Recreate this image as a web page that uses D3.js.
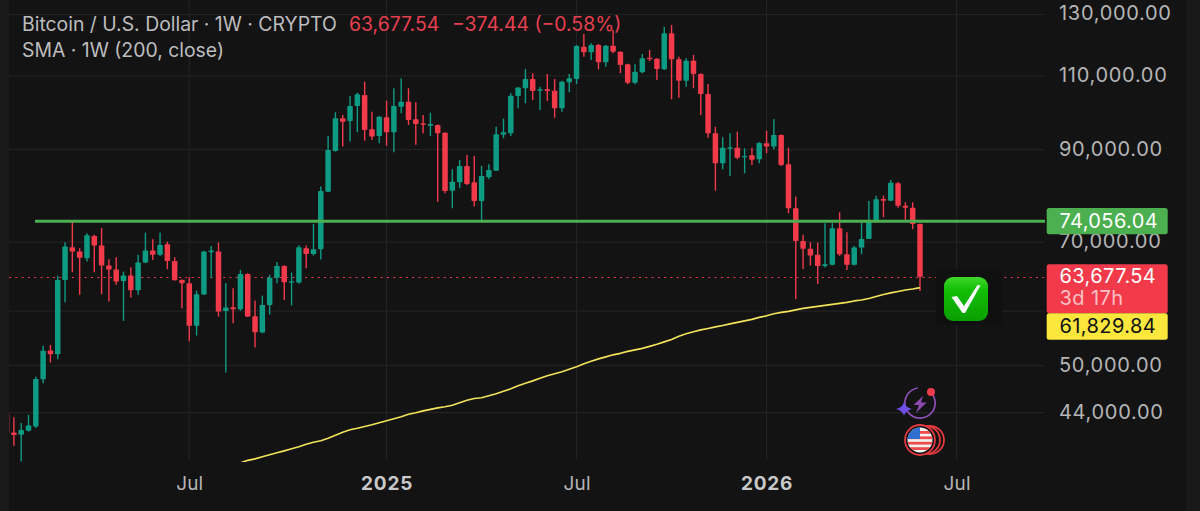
<!DOCTYPE html>
<html>
<head>
<meta charset="utf-8">
<title>BTCUSD weekly</title>
<script src="https://cdn.jsdelivr.net/npm/d3@7/dist/d3.min.js"></script>
<style>
  html, body { margin: 0; padding: 0; background: #131314; overflow: hidden; }
  svg { display: block; }
  text { font-family: Inter, "Open Sans", sans-serif; }
</style>
</head>
<body>
<svg id="chart" width="1200" height="511"></svg>
<script>
// Weekly BTC/USD candles, oldest first
const opens = [43950,41700,41440,41890,42380,48200,52100,51600,63150,69030,68210,67000,71180,69330,65660,64940,62980,63900,61400,66200,68390,67600,69590,66500,63150,62590,55730,60680,68100,68210,58040,58630,58310,64190,57220,54720,59000,63500,65600,62690,62690,68840,67780,68650,80290,89690,98030,97310,101360,104450,95130,93430,98300,94370,101170,102550,97760,96700,96080,96260,94260,80500,82370,86100,82370,78280,83500,85000,93760,94110,104160,106360,109080,105670,106070,105670,100730,108110,109080,119100,117300,119660,114160,119430,117490,113540,108000,111090,115600,115270,111990,123530,115080,108580,114660,110580,104730,94110,86740,90240,90490,88240,88650,87680,91590,90750,93680,86500,76740,70210,68710,67600,65600,65790,72690,67730,65790,68950,70590,73880,78710,78340,82150,77270,76860,73540];
const highs = [43950,43470,42770,43750,48550,52780,52920,63850,69970,74050,68840,71710,71400,72690,66810,67180,64590,65370,67600,71820,70540,71820,70080,67180,63270,63620,61330,68340,69270,69890,62590,61740,64890,64320,59690,60510,64020,66320,65700,64420,69400,69330,73540,81390,93430,99640,98920,104160,105100,108290,99800,98650,102830,106360,109290,106360,102390,98920,99530,96400,94370,85330,87510,88720,88480,86100,86500,95810,97920,104930,106660,112090,110790,106830,110580,109080,108580,110580,119660,123290,120210,119990,119660,124630,117600,113700,113540,116770,118030,115400,125770,126350,115910,115400,116450,110790,107620,95800,93100,94110,94520,90340,90490,91840,94770,97830,93800,90490,79210,71380,69970,69890,73680,73680,75920,71900,69270,73800,78280,79420,79420,82880,82400,78000,78000,73600];
const lows = [41630,40210,38520,41810,42200,47680,50430,50900,59430,64490,60630,66380,64490,60740,59530,62300,56490,60180,60630,66090,66680,67400,65020,63030,58470,53450,54280,60630,63450,57150,49080,56140,58040,57100,52530,54630,57470,62590,59800,58890,62470,65190,67470,66740,80200,89520,90750,91990,94370,92240,92410,91590,91000,89370,99370,96260,91240,94110,93430,78130,79940,76740,81040,81770,77080,74340,83040,85000,92840,93430,100730,102110,103020,100260,102740,98170,99800,105210,107620,115910,114870,111990,112800,116990,110790,107620,107530,110790,114560,108780,111780,103210,103660,106830,106360,98920,92980,80500,85330,83800,87680,84410,86340,86740,89130,90100,86100,75710,59910,65060,65660,62470,65300,65700,67420,64890,65660,67730,70590,73880,74880,78280,76860,74340,72490,61290];
const closes = [41630,41400,41970,42500,48240,52060,51600,63150,69140,68210,67050,71320,69330,65660,64940,62860,63900,61400,66200,68390,67600,69460,66500,63100,62590,55730,60740,68210,68390,57930,58570,58310,64190,57150,54780,59000,63500,65600,62760,62930,69030,67780,68650,80440,89930,98030,97120,101360,104640,94950,93250,98460,94370,101360,102550,97570,96520,96340,96520,94110,80440,82500,86100,82000,78280,83800,85170,93860,94370,104250,106550,109080,105590,106070,105590,100730,108290,109290,119330,117300,119660,114160,119430,117490,113330,108000,111270,115400,115080,112090,123530,115080,108580,114660,110580,104730,94110,86740,90490,90590,88050,88480,87580,91670,90750,93680,86340,76740,70210,68710,67470,65600,65910,72690,67730,65790,68950,70590,74000,78640,78340,82280,77270,76860,73540,63677.54];

// 200-week simple moving average for the most recent weeks
const smaValues = [38385,38650,38805,39020,39235,39450,39660,39880,40100,40375,40600,40760,41040,41380,41720,42000,42170,42380,42575,42805,43035,43270,43510,43805,43985,44220,44400,44585,44710,44895,45200,45510,45730,45820,46070,46320,46630,46950,47335,47660,47980,48310,48640,48910,49175,49510,49850,50260,50600,50940,51215,51500,51710,51990,52200,52415,52700,53000,53350,53710,54160,54530,54830,55120,55340,55570,55790,56030,56260,56490,56720,57030,57265,57580,57810,57970,58200,58440,58600,58760,58920,59080,59240,59400,59640,59800,60040,60370,60700,60955,61200,61450,61615,61829.84];

const priceTicks = [130000, 110000, 90000, 70000, 50000, 44000];
const hiddenPriceTick = 58000;
const supportLevel = 74056.04;
const lastPrice = 63677.54;
const smaLast = 61829.84;
const countdown = "3d 17h";

const timeTicks = [
  { date: Date.UTC(2024, 6, 1),  label: "Jul",  major: false },
  { date: Date.UTC(2025, 0, 6),  label: "2025", major: true  },
  { date: Date.UTC(2025, 6, 7),  label: "Jul",  major: false },
  { date: Date.UTC(2026, 0, 5),  label: "2026", major: true  },
  { date: Date.UTC(2026, 6, 6),  label: "Jul",  major: false }
];

const titleMain = "Bitcoin / U.S. Dollar · 1W · CRYPTO";
const titleQuote = ["63,677.54", "−374.44 (−0.58%)"];
const titleSma = "SMA · 1W (200, close)";

const weeks = d3.utcMonday.range(new Date(Date.UTC(2024, 0, 8)), new Date(Date.UTC(2026, 5, 2)));

const candles = weeks.map((week, i) => ({
  week, open: opens[i], high: highs[i], low: lows[i], close: closes[i]
}));
const smaSeries = smaValues.map((value, i) => ({
  week: weeks[weeks.length - smaValues.length + i], value
}));

const UP = "#0e9b83", DOWN = "#f23a4b", GRID = "#222223", LABEL = "#b5b5b6";
const plotLeft = 9, plotRight = 1045, plotBottom = 462;

const x = d3.scaleUtc()
  .domain([new Date(Date.UTC(2024, 0, 15)), new Date(Date.UTC(2026, 5, 1))])
  .range([13.9, 920]);
const y = d3.scaleLog()
  .domain([130000, 44000])
  .range([14.5, 412.7]);
const weekWidth = x(new Date(Date.UTC(2025, 0, 13))) - x(new Date(Date.UTC(2025, 0, 6)));
const bodyWidth = weekWidth * 0.75;
const money = d3.format(",.2f");

const svg = d3.select("#chart");
svg.append("defs").append("clipPath").attr("id", "plot")
  .append("rect").attr("x", plotLeft).attr("y", 0)
  .attr("width", plotRight - plotLeft).attr("height", plotBottom);

// Panel backgrounds
svg.append("rect").attr("width", 1200).attr("height", 511).attr("fill", "#131314");
svg.append("rect").attr("width", plotLeft).attr("height", 511).attr("fill", "#1a1a1b");
svg.append("rect").attr("x", 1186).attr("width", 14).attr("height", 511).attr("fill", "#19191a");

// Grid
const grid = svg.append("g");
grid.selectAll("line.h").data(priceTicks.concat(hiddenPriceTick)).join("line")
  .attr("class", "h")
  .attr("x1", plotLeft).attr("x2", plotRight)
  .attr("y1", d => y(d)).attr("y2", d => y(d))
  .attr("stroke", GRID).attr("stroke-width", 1.2);
grid.selectAll("line.v").data(timeTicks).join("line")
  .attr("class", "v")
  .attr("x1", d => x(d.date)).attr("x2", d => x(d.date))
  .attr("y1", 0).attr("y2", 460)
  .attr("stroke", GRID).attr("stroke-width", 1.2);

// Last-price dotted rule
const lastRuleY = Math.round(y(lastPrice)) + 0.5;
svg.append("line")
  .attr("x1", plotLeft).attr("x2", plotRight)
  .attr("y1", lastRuleY).attr("y2", lastRuleY)
  .attr("stroke", "#f23a4b").attr("stroke-width", 1.2)
  .attr("stroke-dasharray", "2 4.3");

// Candles
const plot = svg.append("g").attr("clip-path", "url(#plot)");
const color = d => d.close >= d.open ? UP : DOWN;
const candle = plot.selectAll("g.candle").data(candles).join("g").attr("class", "candle");
candle.append("line")
  .attr("x1", d => x(d.week)).attr("x2", d => x(d.week))
  .attr("y1", d => y(d.high)).attr("y2", d => y(d.low))
  .attr("stroke", color).attr("stroke-width", 1.4);
candle.append("rect")
  .attr("x", d => x(d.week) - bodyWidth / 2)
  .attr("width", bodyWidth)
  .attr("y", d => y(Math.max(d.open, d.close)))
  .attr("height", d => Math.max(1.3, y(Math.min(d.open, d.close)) - y(Math.max(d.open, d.close))))
  .attr("rx", 0.7)
  .attr("fill", color);

// Moving average
plot.append("path").datum(smaSeries)
  .attr("fill", "none").attr("stroke", "#f3e35a").attr("stroke-width", 1.6)
  .attr("stroke-linejoin", "round")
  .attr("d", d3.line().x(d => x(d.week)).y(d => y(d.value)));

// Support level
svg.append("line")
  .attr("x1", 35).attr("x2", plotRight)
  .attr("y1", y(supportLevel)).attr("y2", y(supportLevel))
  .attr("stroke", "#4caf50").attr("stroke-width", 3);

// Price axis
const yAxis = d3.axisRight(y).tickValues(priceTicks).tickSize(0).tickPadding(0).tickFormat(money);
const yAxisG = svg.append("g").attr("transform", "translate(1059,-1)").call(yAxis);
yAxisG.select(".domain").remove();
yAxisG.selectAll("text")
  .attr("fill", LABEL).attr("font-size", 20).attr("letter-spacing", 0.7)
  .style("font-family", "Inter, sans-serif");

// Time axis
const xAxis = d3.axisBottom(x)
  .tickValues(timeTicks.map(d => new Date(d.date)))
  .tickSize(0).tickPadding(0)
  .tickFormat((d, i) => timeTicks[i].label);
const xAxisG = svg.append("g").attr("transform", "translate(0,476.5)").call(xAxis);
xAxisG.select(".domain").remove();
xAxisG.selectAll("text")
  .attr("fill", (d, i) => timeTicks[i].major ? "#c9c9ca" : LABEL)
  .attr("font-size", 19)
  .attr("font-weight", (d, i) => timeTicks[i].major ? 700 : 400)
  .attr("letter-spacing", (d, i) => timeTicks[i].major ? 0.8 : 0.2)
  .style("font-family", "Inter, sans-serif");

// Legend
const legend = svg.append("g").attr("font-size", 19.4);
legend.append("text").attr("x", 22).attr("y", 31).attr("fill", "#bdbdbe").text(titleMain);
legend.append("text").attr("x", 349).attr("y", 31).attr("fill", "#e5404f").text(titleQuote[0]);
legend.append("text").attr("x", 452).attr("y", 31).attr("fill", "#e5404f").text(titleQuote[1]);
legend.append("text").attr("x", 22).attr("y", 57).attr("fill", "#bdbdbe").text(titleSma);

// Price tags on the right
function tag(top, bottom, fill) {
  svg.append("rect").attr("x", 1046.7).attr("width", 121).attr("y", top)
    .attr("height", bottom - top).attr("rx", 2.5).attr("fill", fill);
}
function tagText(value, yPos, fill) {
  return svg.append("text").attr("x", 1059.5).attr("y", yPos)
    .attr("fill", fill).attr("font-size", 20).attr("letter-spacing", 0.4).text(value);
}
tag(y(supportLevel) - 13.3, y(supportLevel) + 13, "#4caf50");
tagText(money(supportLevel), y(supportLevel) + 6.5, "#ffffff");
tag(y(lastPrice) - 12.5, y(lastPrice) + 36.5, "#f23a4b");
tagText(money(lastPrice), y(lastPrice) + 6.5, "#ffffff");
tagText(countdown, y(lastPrice) + 28.5, "#fbc0c6");
tag(y(smaLast) + 25.5, y(smaLast) + 52, "#fde73c");
tagText(money(smaLast), y(smaLast) + 45.5, "#111111");

// Check-mark badge beside the last candle
const badge = svg.append("g");
const gradient = svg.select("defs").append("linearGradient")
  .attr("id", "badgeFill").attr("x1", 0).attr("x2", 0).attr("y1", 0).attr("y2", 1);
gradient.append("stop").attr("offset", 0).attr("stop-color", "#3fd62a");
gradient.append("stop").attr("offset", 0.3).attr("stop-color", "#12bf05");
gradient.append("stop").attr("offset", 1).attr("stop-color", "#0a9f00");
badge.append("rect").attr("x", 936).attr("y", 269).attr("width", 66).attr("height", 56)
  .attr("fill", "#101011");
badge.append("rect").attr("x", 944).attr("y", 277).attr("width", 44).attr("height", 44)
  .attr("rx", 9).attr("fill", "url(#badgeFill)");
badge.append("path")
  .attr("d", "M951.5 297 L957 296 L964 306 L977.5 285 L980.5 285.5 L965 313 L962.5 313 Z")
  .attr("fill", "#ffffff");

// Event icons under the last candles
const events = svg.append("g");
events.append("path")
  .attr("d", d3.arc().innerRadius(14.3).outerRadius(16).startAngle(0.9).endAngle(Math.PI * 2 - 0.15)())
  .attr("transform", "translate(920,403)")
  .attr("fill", "#8c4fb5");
events.append("path")
  .attr("d", "M923 396 L913.5 405 L919 405 L916 413 L926.5 402.5 L921 402.5 Z")
  .attr("fill", "#8a48b0");
events.append("circle").attr("cx", 931).attr("cy", 392).attr("r", 4).attr("fill", "#ee3b4b");
events.append("path")
  .attr("d", "M904 402 Q905.5 407.5 912 409 Q905.5 410.5 904 416 Q902.5 410.5 896 409 Q902.5 407.5 904 402 Z")
  .attr("fill", "#6f4fe8");

const flagClip = svg.select("defs").append("clipPath").attr("id", "flag");
flagClip.append("circle").attr("cx", 920).attr("cy", 440).attr("r", 12.5);
[[930, 440], [926, 440]].forEach(([cx, cy]) => {
  events.append("circle").attr("cx", cx).attr("cy", cy).attr("r", 14)
    .attr("fill", "#111112").attr("stroke", "#e0393f").attr("stroke-width", 1.8);
});
events.append("circle").attr("cx", 920).attr("cy", 440).attr("r", 15)
  .attr("fill", "#111112").attr("stroke", "#e0393f").attr("stroke-width", 1.8);
const flag = events.append("g").attr("clip-path", "url(#flag)");
flag.append("rect").attr("x", 905).attr("y", 425).attr("width", 30).attr("height", 30).attr("fill", "#f2f2f2");
d3.range(0, 4).forEach(k => {
  flag.append("rect").attr("x", 905).attr("y", 431 + k * 5.4).attr("width", 30).attr("height", 2.8).attr("fill", "#ee4b4b");
});
flag.append("rect").attr("x", 905).attr("y", 425).attr("width", 15).attr("height", 14).attr("fill", "#2f6fd0");
</script>
</body>
</html>
